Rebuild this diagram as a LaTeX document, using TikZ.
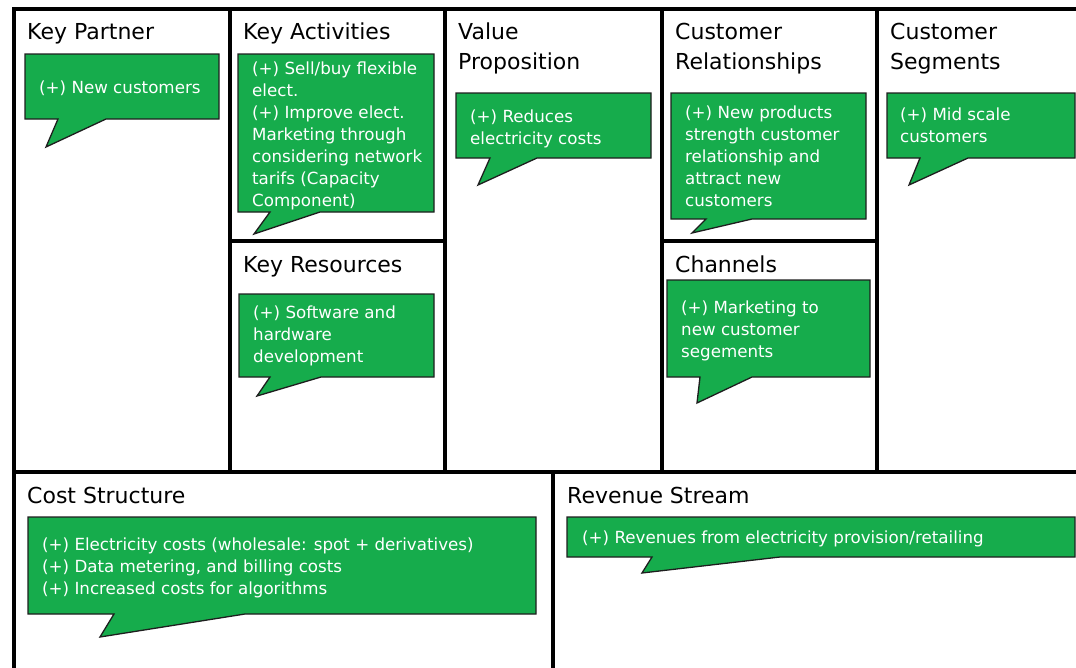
\documentclass[tikz,border=0pt]{standalone}
\usepackage{fontspec}
\setmainfont{DejaVu Sans}
\definecolor{notegreen}{RGB}{22,172,76}
\definecolor{noteedge}{RGB}{30,30,30}
% lines of a block, first baseline on the anchor
\newcommand{\blocklines}[1]{\begin{tabular}[t]{@{}l@{}}#1\end{tabular}}

\begin{document}
\begin{tikzpicture}[x=1pt,y=-1pt,
    frame/.style={line width=4pt},
    bubble/.style={draw=noteedge, line width=1.3pt, fill=notegreen, line join=miter},
    title/.style={anchor=base west, inner sep=0pt, font=\fontsize{22}{30}\selectfont},
    note/.style={anchor=base west, inner sep=0pt, text=white, font=\fontsize{16.7}{22}\selectfont}]
    \useasboundingbox (0,0) rectangle (1076,667);

    % the canvas grid
    \draw[frame] (1080,9) -| (14,670);
    \draw[frame] (14,472) -- (1080,472);
    \foreach \x in {230,445,662,877}
        \draw[frame] (\x,9) -- (\x,472);
    \draw[frame] (230,241) -- (445,241);
    \draw[frame] (662,241) -- (877,241);
    \draw[frame] (553,472) -- (553,670);

    % block titles
    \node[title] (kp)   at (27,39)   {Key Partner};
    \node[title] (ka)   at (243,39)  {Key Activities};
    \node[title] (kr)   at (243,272) {Key Resources};
    \node[title] (vp)   at (458,39)  {\blocklines{Value\\Proposition}};
    \node[title] (cr)   at (675,39)  {\blocklines{Customer\\Relationships}};
    \node[title] (ch)   at (675,272) {Channels};
    \node[title] (cs)   at (890,39)  {\blocklines{Customer\\Segments}};
    \node[title] (cost) at (27,503)  {Cost Structure};
    \node[title] (rev)  at (567,503) {Revenue Stream};

    % speech bubbles
    \draw[bubble] (25,54) -- (219,54) -- (219,119) -- (106,119) -- (46,147) -- (58,119) -- (25,119) -- cycle;
    \draw[bubble] (238,54) -- (434,54) -- (434,212) -- (320,212) -- (254,234) -- (270,212) -- (238,212) -- cycle;
    \draw[bubble] (239,294) -- (434,294) -- (434,377) -- (321,377) -- (257,396) -- (270,377) -- (239,377) -- cycle;
    \draw[bubble] (456,93) -- (651,93) -- (651,158) -- (537,158) -- (478,185) -- (490,158) -- (456,158) -- cycle;
    \draw[bubble] (671,93) -- (866,93) -- (866,219) -- (752,219) -- (692,233) -- (706,219) -- (671,219) -- cycle;
    \draw[bubble] (667,280) -- (870,280) -- (870,377) -- (752,377) -- (697,403) -- (700,377) -- (667,377) -- cycle;
    \draw[bubble] (887,93) -- (1075,93) -- (1075,158) -- (968,158) -- (909,185) -- (920,158) -- (887,158) -- cycle;
    \draw[bubble] (28,517) -- (536,517) -- (536,614) -- (245,614) -- (100,637) -- (114,614) -- (28,614) -- cycle;
    \draw[bubble] (567,517) -- (1075,517) -- (1075,557) -- (780,557) -- (642,573) -- (652,557) -- (567,557) -- cycle;

    % bubble texts
    \node[note] (kpnote) at (39,93) {(+) New customers};
    \node[note] (kanote) at (252,74) {\blocklines{(+) Sell/buy flexible\\elect.\\(+) Improve elect.\\Marketing through\\considering network\\tarifs (Capacity\\Component)}};
    \node[note] (krnote) at (253,318) {\blocklines{(+) Software and\\hardware\\development}};
    \node[note] (vpnote) at (470,122) {\blocklines{(+) Reduces\\electricity costs}};
    \node[note] (crnote) at (685,118) {\blocklines{(+) New products\\strength customer\\relationship and\\attract new\\customers}};
    \node[note] (chnote) at (681,313) {\blocklines{(+) Marketing to\\new customer\\segements}};
    \node[note] (csnote) at (900,120) {\blocklines{(+) Mid scale\\customers}};
    \node[note] (costnote) at (42,550) {\blocklines{(+) Electricity costs (wholesale: spot + derivatives)\\(+) Data metering, and billing costs\\(+) Increased costs for algorithms}};
    \node[note] (revnote) at (582,543) {(+) Revenues from electricity provision/retailing};
\end{tikzpicture}
\end{document}
